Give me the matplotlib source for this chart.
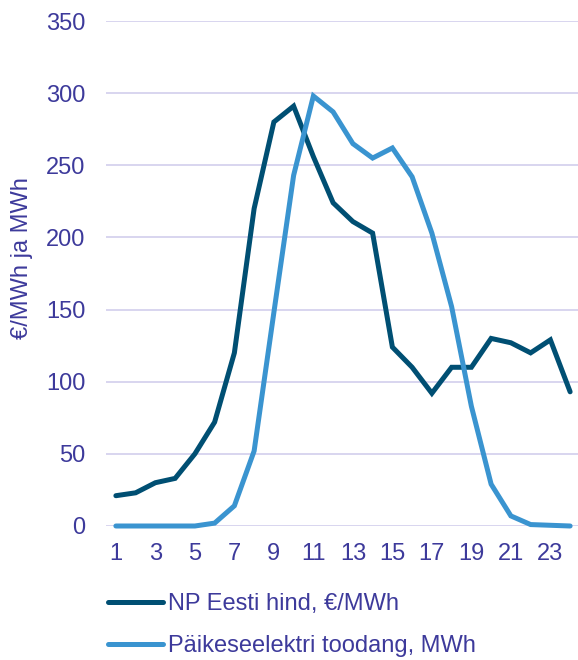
import matplotlib
matplotlib.use("Agg")
import matplotlib.pyplot as plt
from matplotlib.lines import Line2D

hours = list(range(1, 25))
price = [21, 23, 30, 33, 50, 72, 120, 220, 280, 291, 256, 224, 211, 203, 124, 110,
         92, 110, 110, 130, 127, 120, 129, 93]
solar = [0, 0, 0, 0, 0, 2, 14, 52, 148, 243, 298, 287, 265, 255, 262, 242,
         203, 152, 83, 29, 7, 1, 0.5, 0]
series_names = ["NP Eesti hind, €/MWh", "Päikeseelektri toodang, MWh"]
y_label = "€/MWh ja MWh"
y_ticks = [0, 50, 100, 150, 200, 250, 300, 350]
x_ticks = list(range(1, 24, 2))

TEXT = "#3D3A9B"
DARK = "#004F73"
LIGHT = "#3A94D0"
GRID = "#D6D2EE"
FS = 17

plt.rcParams['font.family'] = ['Liberation Sans', 'DejaVu Sans']

W, H = 578, 660
fig = plt.figure(figsize=(W / 100, H / 100), dpi=100)
ax = fig.add_axes([106 / W, 1 - 526 / H, (580 - 106) / W, (526 - 21) / H])

ax.plot(hours, price, color=DARK, lw=3.6, solid_capstyle='round', solid_joinstyle='miter', zorder=3)
ax.plot(hours, solar, color=LIGHT, lw=3.6, solid_capstyle='round', solid_joinstyle='miter', zorder=3)

ax.set_xlim(0.5, 24.5)
ax.set_ylim(0, 350)
ax.set_yticks(y_ticks)
ax.set_xticks(x_ticks)
ax.set_xticklabels([str(t) for t in x_ticks])
ax.tick_params(axis='both', length=0, labelsize=FS, colors=TEXT)
ax.tick_params(axis='y', pad=15)
ax.tick_params(axis='x', pad=12)
ax.grid(axis='y', color=GRID, lw=1.3, zorder=0)
for s in ax.spines.values():
    s.set_visible(False)
ax.set_axisbelow(True)
for ln in ax.lines:
    ln.set_clip_on(False)

fig.text(22 / W, 1 - 258 / H, y_label, rotation=90, ha='center', va='center',
         fontsize=FS, color=TEXT)

handles = [Line2D([], [], color=DARK, lw=3.6, solid_capstyle='round'),
           Line2D([], [], color=LIGHT, lw=3.6, solid_capstyle='round')]
leg = fig.legend(handles, series_names, loc='upper left',
                 bbox_to_anchor=(108 / W, 1 - 593 / H), frameon=False,
                 fontsize=FS, labelcolor=TEXT, handlelength=2.35, handletextpad=0.2,
                 labelspacing=0.85, borderaxespad=0, borderpad=0)

fig.savefig("out.png", dpi=100)
